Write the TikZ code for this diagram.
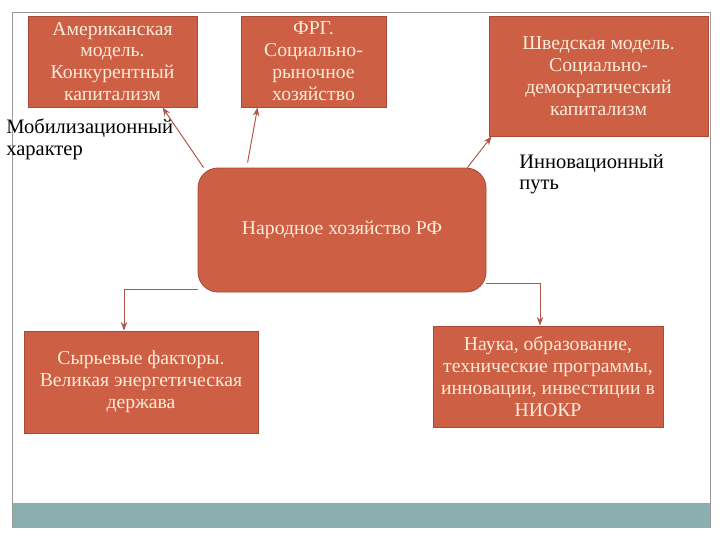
\documentclass[tikz,border=0pt]{standalone}
\usepackage{fontspec}
\setmainfont{Liberation Serif}
\usepackage{xcolor}
\usetikzlibrary{positioning,arrows.meta}

\newlength\px
\setlength\px{0.025cm}
\definecolor{rust}{HTML}{CD5F45}
\definecolor{rustline}{HTML}{A94A36}
\definecolor{cream}{HTML}{FCEBD8}
\definecolor{linkc}{HTML}{B0574A}
\definecolor{band}{HTML}{8BAEAE}

\begin{document}
\begin{tikzpicture}[
        x=\px, y=-\px,
        box/.style={
            draw=rustline,
            line width=0.6pt,
            fill=rust,
            text=cream,
            align=center,
            inner sep=0pt,
            font=\fontsize{14}{15.6}\selectfont
        },
        note/.style={
            align=left,
            inner sep=0pt,
            font=\fontsize{14.6}{15.4}\selectfont
        },
        >=Stealth,
        link/.style={->, draw=linkc, line width=0.7pt}
    ]
        \useasboundingbox (0,0) rectangle (720,540);

        % Slide frame
        \fill[band] (12,503) rectangle (710,528);
        \draw[gray!80] (12,528) -- (12,12) -- (710,12) -- (710,528);

        % Models
        \node[box, minimum width=169\px, minimum height=91\px] (amer) at (112.5,61.5) {Американская\\модель.\\Конкурентный\\капитализм};
        \node[box, minimum width=145\px, minimum height=91\px] (frg) at (313.5,61.5) {ФРГ.\\Социально-\\рыночное\\хозяйство};
        \node[box, minimum width=219\px, minimum height=120\px] (swed) at (598.5,76) {Шведская модель.\\Социально-\\демократический\\капитализм};

        % Centre
        \node[box, rounded corners=0.5cm, minimum width=288\px, minimum height=124\px] (core) at (342,230) {Народное хозяйство РФ};

        % Factors
        \node[box, minimum width=234\px, minimum height=102\px] (raw) at (141,382) {Сырьевые факторы.\\Великая энергетическая\\держава};
        \node[box, minimum width=230\px, minimum height=101\px] (sci) at (548,376.5) {Наука, образование,\\технические программы,\\инновации, инвестиции в\\НИОКР};

        % Notes
        \node[note, anchor=north west] (mob) at (6,119) {Мобилизационный\\характер};
        \node[note, anchor=north west] (innov) at (519,154) {Инновационный\\путь};

        % Links
        \draw[link] ([xshift=6\px]core.north west) -- ([xshift=50\px]amer.south);
        \draw[link] ([xshift=50\px, yshift=5\px]core.north west) -- ([xshift=17\px]frg.south west);
        \draw[link] ([xshift=-19\px]core.north east) -- ([xshift=3\px]swed.south west);
        \draw[link] ([yshift=3\px]core.south west) -| ([xshift=-17\px]raw.north);
        \draw[link] ([yshift=9\px]core.south east) -| ([xshift=-8\px]sci.north);

    \end{tikzpicture}
\end{document}
